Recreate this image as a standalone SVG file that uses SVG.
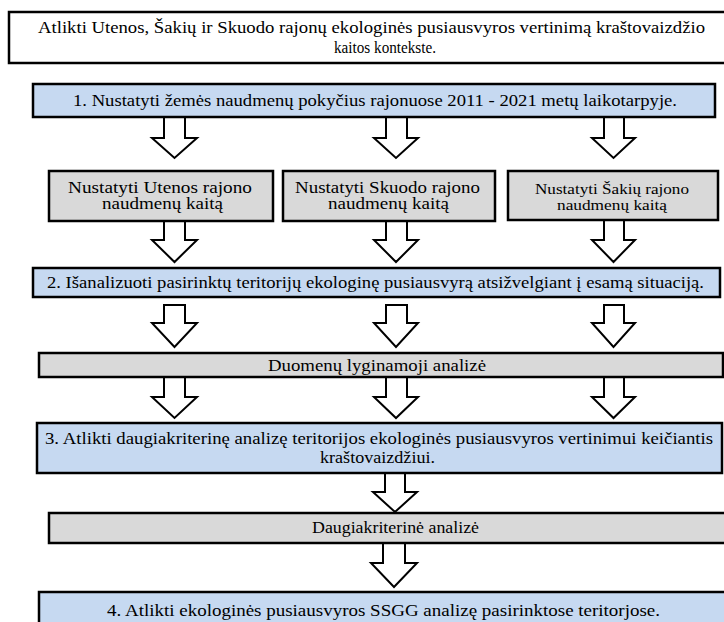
<svg xmlns="http://www.w3.org/2000/svg" width="724" height="622" viewBox="0 0 724 622">
<style>
.box{stroke:#000;stroke-width:2.5}
.white{fill:#fff}
.blue{fill:#C6D9F1}
.grey{fill:#D9D9D9}
.arrow{fill:#fff;stroke:#000;stroke-width:2;stroke-linejoin:miter}
</style>
<rect width="724" height="622" fill="#fff"/>
<g id="connectors">
<path class="arrow" d="M164,117 V138 H152 L174.5,158 L197,138 H185 V117"/>
<path class="arrow" d="M386,117 V138 H374 L396,158 L418,138 H407 V117"/>
<path class="arrow" d="M604,117 V138 H592 L613.5,158 L635,138 H624 V117"/>
<path class="arrow" d="M164,221 V240 H152 L174.5,262 L197,240 H185 V221"/>
<path class="arrow" d="M386,221 V240 H374 L396,262 L418,240 H407 V221"/>
<path class="arrow" d="M604,220 V240 H592 L613.5,262 L635,240 H624 V220"/>
<path class="arrow" d="M164,305 V323 H152 L174.5,347 L197,323 H185 V305 Z"/>
<path class="arrow" d="M386,305 V323 H374 L396,347 L418,323 H407 V305 Z"/>
<path class="arrow" d="M604,305 V323 H592 L613.5,347 L635,323 H624 V305 Z"/>
<path class="arrow" d="M164,377 V397 H152 L174.5,418 L197,397 H185 V377"/>
<path class="arrow" d="M386,377 V397 H374 L396,418 L418,397 H407 V377"/>
<path class="arrow" d="M604,377 V397 H592 L613.5,418 L635,397 H624 V377"/>
<path class="arrow" d="M385,473 V492 H373 L395,512 L417,492 H405 V473"/>
<path class="arrow" d="M383,543 V563 H371 L394,587 L417,563 H405 V543"/>
</g>
<g font-family="'Liberation Serif', 'DejaVu Serif', serif" font-size="16" fill="#000" lengthAdjust="spacingAndGlyphs">
<g id="goal">
<rect class="box white" x="9" y="12" width="725" height="51"/>
<text x="38" y="33" textLength="667" lengthAdjust="spacingAndGlyphs">Atlikti Utenos, Šakių ir Skuodo rajonų ekologinės pusiausvyros vertinimą kraštovaizdžio</text>
<text x="334" y="53" textLength="102" lengthAdjust="spacingAndGlyphs">kaitos kontekste.</text>
</g>
<g id="task1">
<rect class="box blue" x="33" y="84" width="682" height="33"/>
<text x="73" y="106" textLength="604" lengthAdjust="spacingAndGlyphs">1. Nustatyti žemės naudmenų pokyčius rajonuose 2011 - 2021  metų laikotarpyje.</text>
</g>
<g id="utena">
<rect class="box grey" x="49" y="171" width="224" height="50"/>
<text x="68" y="193" textLength="184" lengthAdjust="spacingAndGlyphs">Nustatyti Utenos rajono</text>
<text x="102" y="209" textLength="121" lengthAdjust="spacingAndGlyphs">naudmenų kaitą</text>
</g>
<g id="skuodas">
<rect class="box grey" x="283" y="171" width="212" height="50"/>
<text x="295" y="193" textLength="185" lengthAdjust="spacingAndGlyphs">Nustatyti Skuodo rajono</text>
<text x="328" y="209" textLength="121" lengthAdjust="spacingAndGlyphs">naudmenų kaitą</text>
</g>
<g id="sakiai">
<rect class="box grey" x="508" y="171" width="210" height="49"/>
<text x="535" y="194" textLength="154" lengthAdjust="spacingAndGlyphs" font-size="15">Nustatyti Šakių rajono</text>
<text x="557" y="210" textLength="110" lengthAdjust="spacingAndGlyphs" font-size="15">naudmenų kaitą</text>
</g>
<g id="task2">
<rect class="box blue" x="33" y="268" width="687" height="29"/>
<text x="47" y="288" textLength="657" lengthAdjust="spacingAndGlyphs">2. Išanalizuoti pasirinktų teritorijų ekologinę pusiausvyrą atsižvelgiant į esamą situaciją.</text>
</g>
<g id="comparison">
<rect class="box grey" x="39" y="353" width="684" height="24"/>
<text x="268" y="371" textLength="218" lengthAdjust="spacingAndGlyphs">Duomenų lyginamoji analizė</text>
</g>
<g id="task3">
<rect class="box blue" x="37" y="423" width="685" height="50"/>
<text x="45" y="444" textLength="668" lengthAdjust="spacingAndGlyphs">3. Atlikti  daugiakriterinę analizę teritorijos ekologinės pusiausvyros vertinimui keičiantis</text>
<text x="320" y="463" textLength="115" lengthAdjust="spacingAndGlyphs">kraštovaizdžiui.</text>
</g>
<g id="multicriteria">
<rect class="box grey" x="49" y="513" width="685" height="30"/>
<text x="312" y="533" textLength="167" lengthAdjust="spacingAndGlyphs">Daugiakriterinė analizė</text>
</g>
<g id="task4">
<rect class="box blue" x="39" y="592" width="695" height="40"/>
<text x="107" y="616" textLength="553" lengthAdjust="spacingAndGlyphs">4. Atlikti ekologinės pusiausvyros SSGG analizę pasirinktose teritorjose.</text>
</g>
</g>
</svg>
